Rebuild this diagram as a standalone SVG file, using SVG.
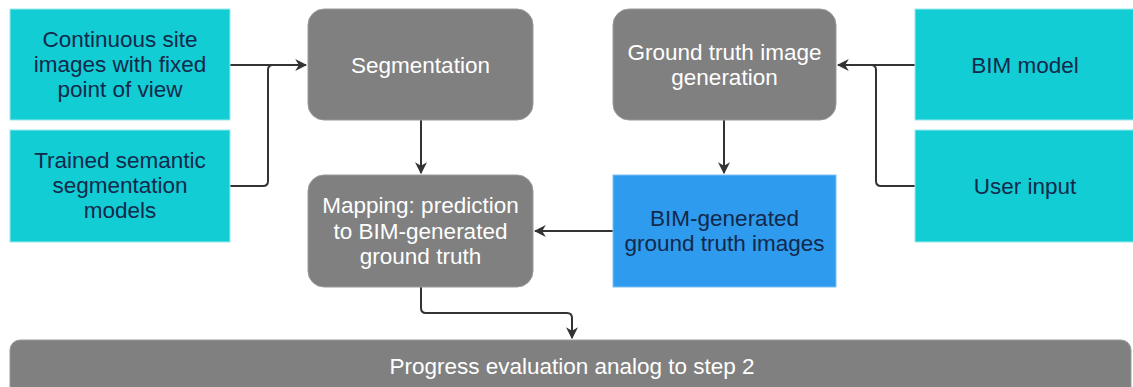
<svg xmlns="http://www.w3.org/2000/svg" width="1133" height="387" viewBox="0 0 1133 387">
<style>
.in{fill:#12CDD4;stroke:#9BE8EC;stroke-width:1}
.pr{fill:#808080;stroke:#9a9a9a;stroke-width:1}
.out{fill:#2E9BEF;stroke:#7CC0F5;stroke-width:1}
.td{font-family:"Liberation Sans",Arial,sans-serif;font-size:22.5px;fill:#13294B;text-anchor:middle}
.tw{font-family:"Liberation Sans",Arial,sans-serif;font-size:22.5px;fill:#ffffff;text-anchor:middle}
.c{fill:none;stroke:#333333;stroke-width:2;stroke-linejoin:round}
</style>
<defs>
<marker id="ah" viewBox="0 0 10 10" refX="9" refY="5" markerWidth="6" markerHeight="6" orient="auto" markerUnits="strokeWidth">
<path d="M0,0 L10,5 L0,10 L3,5 z" fill="#333333"/>
</marker>
</defs>
<rect width="1133" height="387" fill="#ffffff"/>
<g id="connectors">
<path class="c" d="M230,65 H306" marker-end="url(#ah)"/>
<path class="c" d="M230,186 H263 Q268,186 268,181 V70 Q268,65 273,65 H290"/>
<path class="c" d="M421,120 V173" marker-end="url(#ah)"/>
<path class="c" d="M724,120 V173" marker-end="url(#ah)"/>
<path class="c" d="M613,231 H535" marker-end="url(#ah)"/>
<path class="c" d="M915,65 H838" marker-end="url(#ah)"/>
<path class="c" d="M915,186 H881 Q876,186 876,181 V70 Q876,65 871,65 H860"/>
<path class="c" d="M421,287 V308 Q421,313 426,313 H567 Q572,313 572,318 V338" marker-end="url(#ah)"/>
</g>
<g id="n-images">
<rect class="in" x="10" y="9" width="220" height="111"/>
<text class="td" x="120" y="47">Continuous site</text>
<text class="td" x="120" y="72">images with fixed</text>
<text class="td" x="120" y="97">point of view</text>
</g>
<g id="n-models">
<rect class="in" x="10" y="130" width="220" height="112"/>
<text class="td" x="120" y="168">Trained semantic</text>
<text class="td" x="120" y="193">segmentation</text>
<text class="td" x="120" y="218">models</text>
</g>
<g id="n-segmentation">
<rect class="pr" x="308" y="9" width="225" height="111" rx="16"/>
<text class="tw" x="420.5" y="73">Segmentation</text>
</g>
<g id="n-mapping">
<rect class="pr" x="308" y="175" width="225" height="112" rx="16"/>
<text class="tw" x="420.5" y="213">Mapping: prediction</text>
<text class="tw" x="420.5" y="239">to BIM-generated</text>
<text class="tw" x="420.5" y="264">ground truth</text>
</g>
<g id="n-gtgen">
<rect class="pr" x="613" y="9" width="223" height="111" rx="16"/>
<text class="tw" x="724.5" y="60">Ground truth image</text>
<text class="tw" x="724.5" y="85">generation</text>
</g>
<g id="n-bimgen">
<rect class="out" x="613" y="175" width="223" height="112"/>
<text class="td" x="724.5" y="226">BIM-generated</text>
<text class="td" x="724.5" y="251">ground truth images</text>
</g>
<g id="n-bim">
<rect class="in" x="915" y="9" width="225" height="111"/>
<text class="td" x="1025" y="73">BIM model</text>
</g>
<g id="n-user">
<rect class="in" x="915" y="130" width="225" height="112"/>
<text class="td" x="1025" y="194">User input</text>
</g>
<g id="n-progress">
<rect class="pr" x="10" y="340" width="1121" height="60" rx="10"/>
<text class="tw" x="572" y="374">Progress evaluation analog to step 2</text>
</g>
</svg>
